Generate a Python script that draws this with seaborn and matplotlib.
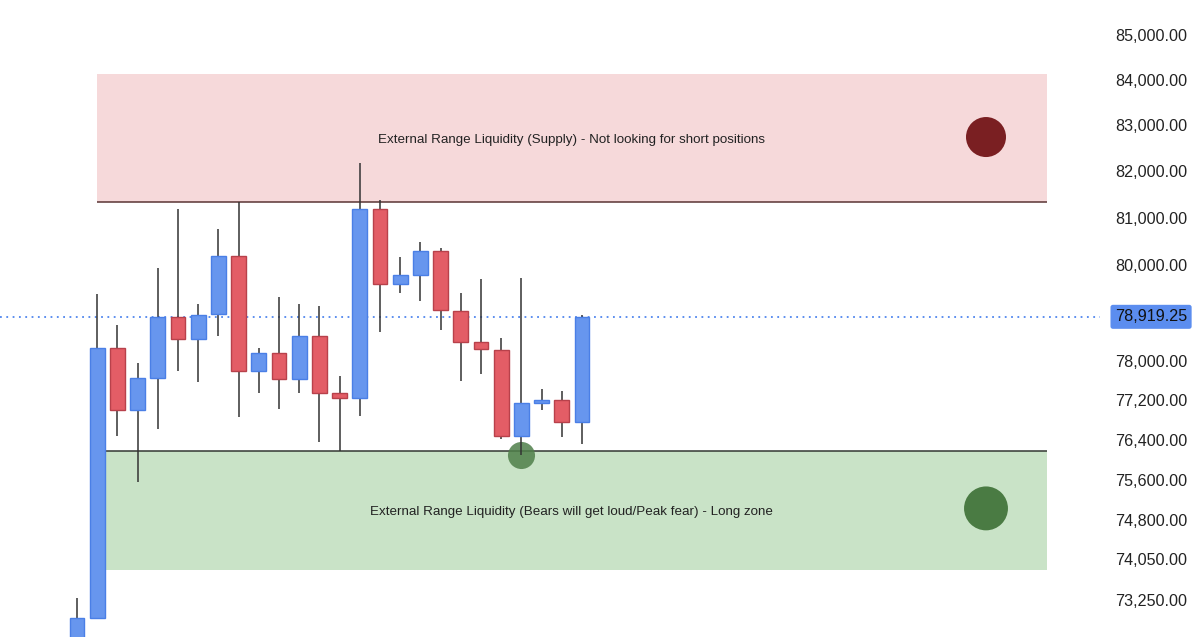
import numpy as np
import pandas as pd
import matplotlib
matplotlib.use("Agg")
import matplotlib.pyplot as plt
import matplotlib.transforms as mtransforms
from matplotlib.ticker import FuncFormatter, NullLocator, NullFormatter
import seaborn as sns

# candle data, one entry per session
opens = [72300, 72900, 78270, 77010, 77650, 78920, 78460, 78970, 80190, 77810,
         78180, 77640, 78520, 77350, 77245, 81185, 79610, 79800, 80300, 79050,
         78390, 78230, 76490, 77145, 77210, 76770]
highs = [73290, 79400, 78750, 77960, 79930, 81190, 79190, 80770, 81350, 78270,
         79340, 79190, 79140, 77690, 82175, 81380, 80170, 80480, 80365, 79410,
         79700, 78480, 79730, 77430, 77390, 78950]
lows = [72300, 72900, 76480, 75550, 76620, 77800, 77580, 78530, 76860, 77350,
        77020, 77350, 76350, 76180, 76890, 78610, 79420, 79255, 78645, 77600,
        77730, 76430, 76100, 77010, 76470, 76310]
closes = [72900, 78270, 77010, 77650, 78920, 78460, 78960, 80190, 77810, 78180,
          77640, 78520, 77350, 77245, 81185, 79610, 79800, 80300, 79060, 78390,
          78250, 76490, 77145, 77215, 76770, 78919.25]

last_price = 78919.25
y_ticks = [85000, 84000, 83000, 82000, 81000, 80000, 78000, 77200, 76400,
           75600, 74800, 74050, 73250]

supply_top, supply_bottom = 84130, 81350
demand_top, demand_bottom = 76180, 73820
zone_start, zone_end = 1, 48

supply_text = "External Range Liquidity (Supply) - Not looking for short positions"
demand_text = "External Range Liquidity (Bears will get loud/Peak fear) - Long zone"

# zone markers (right side) and the touch marker on the demand line
zone_mark_x = [45, 45]
zone_mark_y = [82746, 75036]
zone_mark_kind = ["supply", "demand"]
touch_x = [22]
touch_y = [76099]

df = pd.DataFrame({"open": opens, "high": highs, "low": lows, "close": closes})
df["idx"] = np.arange(len(df))
df["up"] = df["close"] >= df["open"]

sns.set_theme(style="white")
plt.rcParams["font.family"] = ["Liberation Sans", "DejaVu Sans"]

fig = plt.figure(figsize=(12, 6.37), dpi=100)
ax = fig.add_axes([0, 0, 1100 / 1200, 1])
ax.set_yscale("log")

# zones
ax.fill_between([zone_start, zone_end], supply_bottom, supply_top,
                color="#f6d9da", lw=0, zorder=0)
ax.fill_between([zone_start, zone_end], demand_bottom, demand_top,
                color="#c9e3c7", lw=0, zorder=0)
ax.hlines(supply_bottom, zone_start, zone_end, color="#5a3434", lw=1.1, zorder=1)
ax.hlines(demand_top, zone_start, zone_end, color="#333833", lw=1.1, zorder=1)

# last price line
ax.axhline(last_price, color="#4f86ee", lw=1.3, ls=(0, (1, 2.5)), zorder=1)

# candles
ax.vlines(df["idx"], df["low"], df["high"], color="#333333", lw=1.1, zorder=2)
body_lo = df[["open", "close"]].min(axis=1)
body_h = (df["close"] - df["open"]).abs()
face = np.where(df["up"], "#6796ee", "#e35d66")
edge = np.where(df["up"], "#4a7fe6", "#b8414b")
ax.bar(df["idx"], body_h, bottom=body_lo, width=0.74, color=face,
       edgecolor=edge, linewidth=1, zorder=3)

# circle markers
mk = pd.DataFrame({"x": zone_mark_x, "y": zone_mark_y, "kind": zone_mark_kind})
sns.scatterplot(data=mk, x="x", y="y", hue="kind", size="kind",
                palette={"supply": "#7a1f22", "demand": "#4a7b43"},
                sizes={"supply": 830, "demand": 1000},
                linewidth=0, legend=False, ax=ax, zorder=1.5)
sns.scatterplot(x=touch_x, y=touch_y, color="#4f7f4a", s=380, alpha=0.85,
                linewidth=0, legend=False, ax=ax, zorder=1.5)

# zone labels
ax.text(24.46, 82680, supply_text, ha="center", va="center", fontsize=9.6, color="#222222")
ax.text(24.46, 74958, demand_text, ha="center", va="center", fontsize=9.6, color="#222222")

ax.set_xlim(-77 / 20.2, -77 / 20.2 + 1100 / 20.2)
ax.set_ylim(72537, 85787)
ax.set_xlabel("")
ax.set_ylabel("")
ax.set_xticks([])

ax.yaxis.tick_right()
ax.yaxis.set_minor_locator(NullLocator())
ax.yaxis.set_minor_formatter(NullFormatter())
ax.set_yticks(y_ticks)
ax.yaxis.set_major_formatter(FuncFormatter(lambda v, _: f"{v:,.2f}"))
ax.tick_params(axis="y", length=0, pad=11, labelsize=11.6, labelcolor="#222222")
for s in ax.spines.values():
    s.set_visible(False)

# last price tag
trans = mtransforms.blended_transform_factory(ax.transAxes, ax.transData)
ax.text(1 + 15 / 1100, last_price, f"{last_price:,.2f}", transform=trans,
        ha="left", va="center", fontsize=11.6, color="#111111", clip_on=False,
        bbox=dict(boxstyle="round,pad=0.28,rounding_size=0.15", fc="#5b8def", ec="none"))

fig.savefig("out.png", dpi=100)
